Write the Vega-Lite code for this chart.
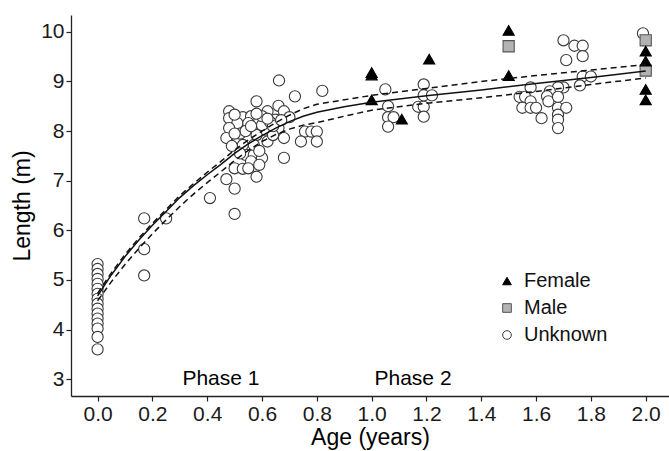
{
  "$schema": "https://vega.github.io/schema/vega-lite/v6.json",
  "width": 598,
  "height": 381,
  "autosize": {"type": "none"},
  "padding": {"left": 71, "top": 15, "right": 0, "bottom": 55},
  "config": {
    "view": {"stroke": null},
    "font": "Liberation Sans",
    "axis": {
      "grid": false,
      "domainColor": "#222",
      "domainWidth": 1.3,
      "tickColor": "#222",
      "tickWidth": 1.2,
      "tickSize": 5,
      "labelFontSize": 21,
      "labelColor": "#1a1a1a",
      "labelPadding": 2,
      "titleFontSize": 23,
      "titleFontWeight": "normal",
      "titleColor": "#000"
    }
  },
  "datasets": {
    "pts": [
      {"age": 0, "len": 5.32, "sex": "Unknown"},
      {"age": 0, "len": 5.22, "sex": "Unknown"},
      {"age": 0, "len": 5.12, "sex": "Unknown"},
      {"age": 0, "len": 5.02, "sex": "Unknown"},
      {"age": 0, "len": 4.92, "sex": "Unknown"},
      {"age": 0, "len": 4.82, "sex": "Unknown"},
      {"age": 0, "len": 4.72, "sex": "Unknown"},
      {"age": 0, "len": 4.62, "sex": "Unknown"},
      {"age": 0, "len": 4.52, "sex": "Unknown"},
      {"age": 0, "len": 4.42, "sex": "Unknown"},
      {"age": 0, "len": 4.32, "sex": "Unknown"},
      {"age": 0, "len": 4.22, "sex": "Unknown"},
      {"age": 0, "len": 4.12, "sex": "Unknown"},
      {"age": 0, "len": 4.02, "sex": "Unknown"},
      {"age": 0, "len": 3.85, "sex": "Unknown"},
      {"age": 0, "len": 3.6, "sex": "Unknown"},
      {"age": 0.17, "len": 6.24, "sex": "Unknown"},
      {"age": 0.17, "len": 5.62, "sex": "Unknown"},
      {"age": 0.17, "len": 5.09, "sex": "Unknown"},
      {"age": 0.25, "len": 6.24, "sex": "Unknown"},
      {"age": 0.41, "len": 6.65, "sex": "Unknown"},
      {"age": 0.47, "len": 7.03, "sex": "Unknown"},
      {"age": 0.5, "len": 6.84, "sex": "Unknown"},
      {"age": 0.5, "len": 6.33, "sex": "Unknown"},
      {"age": 0.662, "len": 9.02, "sex": "Unknown"},
      {"age": 0.72, "len": 8.7, "sex": "Unknown"},
      {"age": 0.58, "len": 8.6, "sex": "Unknown"},
      {"age": 0.48, "len": 8.4, "sex": "Unknown"},
      {"age": 0.48, "len": 8.26, "sex": "Unknown"},
      {"age": 0.53, "len": 8.28, "sex": "Unknown"},
      {"age": 0.56, "len": 8.3, "sex": "Unknown"},
      {"age": 0.62, "len": 8.4, "sex": "Unknown"},
      {"age": 0.66, "len": 8.51, "sex": "Unknown"},
      {"age": 0.68, "len": 8.4, "sex": "Unknown"},
      {"age": 0.7, "len": 8.28, "sex": "Unknown"},
      {"age": 0.51, "len": 8.16, "sex": "Unknown"},
      {"age": 0.55, "len": 8.16, "sex": "Unknown"},
      {"age": 0.59, "len": 8.2, "sex": "Unknown"},
      {"age": 0.65, "len": 8.23, "sex": "Unknown"},
      {"age": 0.48, "len": 8.06, "sex": "Unknown"},
      {"age": 0.57, "len": 8.03, "sex": "Unknown"},
      {"age": 0.61, "len": 8.03, "sex": "Unknown"},
      {"age": 0.66, "len": 8.06, "sex": "Unknown"},
      {"age": 0.47, "len": 7.86, "sex": "Unknown"},
      {"age": 0.51, "len": 7.79, "sex": "Unknown"},
      {"age": 0.55, "len": 7.86, "sex": "Unknown"},
      {"age": 0.62, "len": 7.79, "sex": "Unknown"},
      {"age": 0.68, "len": 7.86, "sex": "Unknown"},
      {"age": 0.757, "len": 7.99, "sex": "Unknown"},
      {"age": 0.78, "len": 7.99, "sex": "Unknown"},
      {"age": 0.8, "len": 7.99, "sex": "Unknown"},
      {"age": 0.742, "len": 7.79, "sex": "Unknown"},
      {"age": 0.8, "len": 7.79, "sex": "Unknown"},
      {"age": 0.525, "len": 7.66, "sex": "Unknown"},
      {"age": 0.56, "len": 7.62, "sex": "Unknown"},
      {"age": 0.54, "len": 7.52, "sex": "Unknown"},
      {"age": 0.57, "len": 7.52, "sex": "Unknown"},
      {"age": 0.6, "len": 7.46, "sex": "Unknown"},
      {"age": 0.68, "len": 7.46, "sex": "Unknown"},
      {"age": 0.56, "len": 7.39, "sex": "Unknown"},
      {"age": 0.5, "len": 7.25, "sex": "Unknown"},
      {"age": 0.53, "len": 7.24, "sex": "Unknown"},
      {"age": 0.55, "len": 7.25, "sex": "Unknown"},
      {"age": 0.59, "len": 7.32, "sex": "Unknown"},
      {"age": 0.58, "len": 7.08, "sex": "Unknown"},
      {"age": 0.52, "len": 7.95, "sex": "Unknown"},
      {"age": 0.54, "len": 8.0, "sex": "Unknown"},
      {"age": 0.58, "len": 7.92, "sex": "Unknown"},
      {"age": 0.6, "len": 8.12, "sex": "Unknown"},
      {"age": 0.63, "len": 8.18, "sex": "Unknown"},
      {"age": 0.57, "len": 7.72, "sex": "Unknown"},
      {"age": 0.53, "len": 7.72, "sex": "Unknown"},
      {"age": 0.49, "len": 7.7, "sex": "Unknown"},
      {"age": 0.5, "len": 7.95, "sex": "Unknown"},
      {"age": 0.64, "len": 7.92, "sex": "Unknown"},
      {"age": 0.64, "len": 8.1, "sex": "Unknown"},
      {"age": 0.67, "len": 8.22, "sex": "Unknown"},
      {"age": 0.59, "len": 7.6, "sex": "Unknown"},
      {"age": 0.52, "len": 7.55, "sex": "Unknown"},
      {"age": 0.6, "len": 8.3, "sex": "Unknown"},
      {"age": 0.56, "len": 8.1, "sex": "Unknown"},
      {"age": 0.62, "len": 8.25, "sex": "Unknown"},
      {"age": 0.58, "len": 8.35, "sex": "Unknown"},
      {"age": 0.5, "len": 8.33, "sex": "Unknown"},
      {"age": 0.82, "len": 8.81, "sex": "Unknown"},
      {"age": 1.05, "len": 8.84, "sex": "Unknown"},
      {"age": 1.06, "len": 8.5, "sex": "Unknown"},
      {"age": 1.06, "len": 8.28, "sex": "Unknown"},
      {"age": 1.08, "len": 8.28, "sex": "Unknown"},
      {"age": 1.06, "len": 8.09, "sex": "Unknown"},
      {"age": 1.19, "len": 8.94, "sex": "Unknown"},
      {"age": 1.19, "len": 8.72, "sex": "Unknown"},
      {"age": 1.22, "len": 8.72, "sex": "Unknown"},
      {"age": 1.17, "len": 8.49, "sex": "Unknown"},
      {"age": 1.19, "len": 8.49, "sex": "Unknown"},
      {"age": 1.19, "len": 8.29, "sex": "Unknown"},
      {"age": 1.7, "len": 9.83, "sex": "Unknown"},
      {"age": 1.74, "len": 9.72, "sex": "Unknown"},
      {"age": 1.77, "len": 9.72, "sex": "Unknown"},
      {"age": 1.71, "len": 9.43, "sex": "Unknown"},
      {"age": 1.77, "len": 9.51, "sex": "Unknown"},
      {"age": 1.77, "len": 9.1, "sex": "Unknown"},
      {"age": 1.8, "len": 9.1, "sex": "Unknown"},
      {"age": 1.76, "len": 8.92, "sex": "Unknown"},
      {"age": 1.58, "len": 8.88, "sex": "Unknown"},
      {"age": 1.7, "len": 8.88, "sex": "Unknown"},
      {"age": 1.68, "len": 8.88, "sex": "Unknown"},
      {"age": 1.65, "len": 8.8, "sex": "Unknown"},
      {"age": 1.54, "len": 8.69, "sex": "Unknown"},
      {"age": 1.56, "len": 8.69, "sex": "Unknown"},
      {"age": 1.58, "len": 8.6, "sex": "Unknown"},
      {"age": 1.64, "len": 8.7, "sex": "Unknown"},
      {"age": 1.645, "len": 8.6, "sex": "Unknown"},
      {"age": 1.68, "len": 8.69, "sex": "Unknown"},
      {"age": 1.55, "len": 8.47, "sex": "Unknown"},
      {"age": 1.58, "len": 8.47, "sex": "Unknown"},
      {"age": 1.6, "len": 8.47, "sex": "Unknown"},
      {"age": 1.68, "len": 8.47, "sex": "Unknown"},
      {"age": 1.71, "len": 8.47, "sex": "Unknown"},
      {"age": 1.68, "len": 8.33, "sex": "Unknown"},
      {"age": 1.62, "len": 8.26, "sex": "Unknown"},
      {"age": 1.68, "len": 8.23, "sex": "Unknown"},
      {"age": 1.68, "len": 8.06, "sex": "Unknown"},
      {"age": 1.99, "len": 9.97, "sex": "Unknown"},
      {"age": 1.5, "len": 9.71, "sex": "Male"},
      {"age": 2.0, "len": 9.83, "sex": "Male"},
      {"age": 2.0, "len": 9.22, "sex": "Male"},
      {"age": 1.0, "len": 9.18, "sex": "Female"},
      {"age": 1.0, "len": 9.13, "sex": "Female"},
      {"age": 1.0, "len": 8.63, "sex": "Female"},
      {"age": 1.11, "len": 8.24, "sex": "Female"},
      {"age": 1.21, "len": 9.45, "sex": "Female"},
      {"age": 1.5, "len": 10.03, "sex": "Female"},
      {"age": 1.5, "len": 9.12, "sex": "Female"},
      {"age": 2.0, "len": 9.61, "sex": "Female"},
      {"age": 2.0, "len": 9.41, "sex": "Female"},
      {"age": 2.0, "len": 8.84, "sex": "Female"},
      {"age": 2.0, "len": 8.63, "sex": "Female"}
    ],
    "fit": [
      {"age": 0.0, "fit": 4.68, "lo": 4.58, "hi": 4.73},
      {"age": 0.05, "fit": 5.1, "lo": 4.96, "hi": 5.14},
      {"age": 0.1, "fit": 5.47, "lo": 5.31, "hi": 5.51},
      {"age": 0.15, "fit": 5.8, "lo": 5.63, "hi": 5.84},
      {"age": 0.2, "fit": 6.1, "lo": 5.93, "hi": 6.14},
      {"age": 0.25, "fit": 6.38, "lo": 6.21, "hi": 6.42},
      {"age": 0.3, "fit": 6.66, "lo": 6.48, "hi": 6.7},
      {"age": 0.35, "fit": 6.9, "lo": 6.73, "hi": 6.94},
      {"age": 0.4, "fit": 7.12, "lo": 6.96, "hi": 7.17},
      {"age": 0.45, "fit": 7.33, "lo": 7.18, "hi": 7.39},
      {"age": 0.5, "fit": 7.55, "lo": 7.41, "hi": 7.62},
      {"age": 0.55, "fit": 7.74, "lo": 7.61, "hi": 7.82},
      {"age": 0.6, "fit": 7.91, "lo": 7.79, "hi": 8.0},
      {"age": 0.65, "fit": 8.06, "lo": 7.93, "hi": 8.17},
      {"age": 0.7, "fit": 8.19, "lo": 8.04, "hi": 8.32},
      {"age": 0.75, "fit": 8.3, "lo": 8.12, "hi": 8.45},
      {"age": 0.8, "fit": 8.38, "lo": 8.17, "hi": 8.54},
      {"age": 0.9, "fit": 8.49, "lo": 8.3, "hi": 8.63},
      {"age": 1.0, "fit": 8.58, "lo": 8.42, "hi": 8.72},
      {"age": 1.2, "fit": 8.71, "lo": 8.56, "hi": 8.86},
      {"age": 1.4, "fit": 8.83, "lo": 8.67, "hi": 9.0},
      {"age": 1.6, "fit": 8.96, "lo": 8.8, "hi": 9.12},
      {"age": 1.8, "fit": 9.08, "lo": 8.94, "hi": 9.23},
      {"age": 2.0, "fit": 9.21, "lo": 9.07, "hi": 9.34}
    ],
    "phases": [
      {"age": 0.45, "len": 3.0, "label": "Phase 1"},
      {"age": 1.151, "len": 3.0, "label": "Phase 2"}
    ]
  },
  "encoding": {
    "x": {
      "field": "age",
      "type": "quantitative",
      "title": "Age (years)",
      "scale": {"domain": [-0.097, 2.085], "nice": false, "zero": false},
      "axis": {"values": [0, 0.2, 0.4, 0.6, 0.8, 1.0, 1.2, 1.4, 1.6, 1.8, 2.0], "format": ".1f", "titlePadding": 2}
    }
  },
  "layer": [
    {
      "data": {"name": "pts"},
      "mark": {"type": "point", "filled": true, "size": 125, "strokeWidth": 1.1, "opacity": 1},
      "encoding": {
        "y": {
          "field": "len",
          "type": "quantitative",
          "title": "Length (m)",
          "scale": {"domain": [2.66, 10.34], "nice": false, "zero": false},
          "axis": {"values": [3, 4, 5, 6, 7, 8, 9, 10], "titlePadding": 6}
        },
        "shape": {
          "field": "sex",
          "type": "nominal",
          "scale": {"domain": ["Female", "Male", "Unknown"], "range": ["triangle-up", "square", "circle"]},
          "legend": {
            "orient": "none",
            "legendX": 426,
            "legendY": 256,
            "title": null,
            "labelFontSize": 20,
            "labelColor": "#111",
            "symbolSize": 75,
            "rowPadding": 7,
            "labelOffset": 7,
            "symbolStrokeWidth": 1
          }
        },
        "fill": {
          "field": "sex",
          "type": "nominal",
          "scale": {"domain": ["Female", "Male", "Unknown"], "range": ["#000000", "#b3b3b3", "#ffffff"]}
        },
        "stroke": {
          "field": "sex",
          "type": "nominal",
          "scale": {"domain": ["Female", "Male", "Unknown"], "range": ["#000000", "#555555", "#3a3a3a"]}
        }
      }
    },
    {
      "data": {"name": "fit"},
      "mark": {"type": "line", "color": "#111", "strokeWidth": 1.5},
      "encoding": {"y": {"field": "fit", "type": "quantitative"}}
    },
    {
      "data": {"name": "fit"},
      "mark": {"type": "line", "color": "#111", "strokeWidth": 1.5, "strokeDash": [6, 4]},
      "encoding": {"y": {"field": "lo", "type": "quantitative"}}
    },
    {
      "data": {"name": "fit"},
      "mark": {"type": "line", "color": "#111", "strokeWidth": 1.5, "strokeDash": [6, 4]},
      "encoding": {"y": {"field": "hi", "type": "quantitative"}}
    },
    {
      "data": {"name": "phases"},
      "mark": {"type": "text", "fontSize": 21, "color": "#000", "baseline": "middle", "align": "center"},
      "encoding": {
        "y": {"field": "len", "type": "quantitative"},
        "text": {"field": "label"}
      }
    },
    {
      "mark": {"type": "rule", "color": "#8c8c8c", "strokeWidth": 1.5},
      "encoding": {"x": {"datum": 0.8}}
    }
  ]
}
